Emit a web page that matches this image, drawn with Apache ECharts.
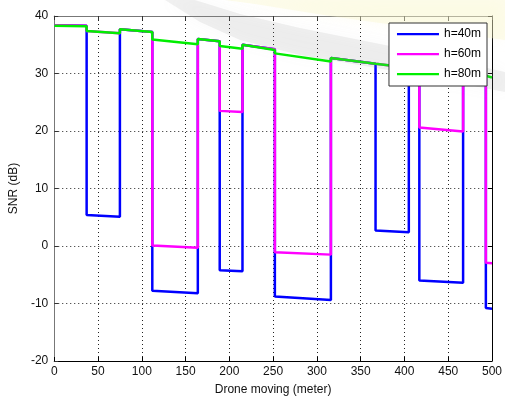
<!DOCTYPE html>
<html>
<head>
<meta charset="utf-8">
<script src="https://cdn.jsdelivr.net/npm/echarts@6/dist/echarts.min.js"></script>
<style>
html,body{margin:0;padding:0;background:#fff;}
#chart{width:505px;height:401px;}
</style>
</head>
<body>
<div id="chart"></div>
<script>
// Breakpoints of each curve (distance in m, SNR in dB)
const h40X = [0, 37, 37, 75, 75, 112, 112, 164, 164, 189, 189, 215, 215, 252, 252, 316, 316, 367, 367, 405, 405, 417, 417, 467, 467, 493, 493, 500];
const h40Y = [38.4, 38.3, 5.4, 5.1, 37.7, 37.2, -7.8, -8.2, 36.0, 35.6, -4.2, -4.4, 35.0, 34.2, -8.8, -9.4, 32.7, 31.7, 2.7, 2.4, 31.3, 31.1, -6.0, -6.4, 30.1, 29.6, -10.8, -10.9];

const h60X = [0, 37, 37, 75, 75, 112, 112, 164, 164, 189, 189, 215, 215, 252, 252, 316, 316, 367, 367, 405, 405, 417, 417, 467, 467, 493, 493, 500];
const h60Y = [38.4, 38.3, 37.4, 37.0, 37.7, 37.2, 0.1, -0.3, 36.0, 35.6, 23.5, 23.3, 35.0, 34.2, -1.1, -1.5, 32.7, 31.7, 31.4, 31.0, 31.3, 31.1, 20.6, 19.9, 30.1, 29.6, -2.9, -3.0];

const h80X = [0, 37, 37, 75, 75, 112, 112, 164, 164, 189, 189, 215, 215, 252, 252, 316, 316, 367, 367, 405, 405, 417, 417, 467, 467, 493, 493, 500];
const h80Y = [38.3, 38.2, 37.4, 37.0, 37.7, 37.2, 35.9, 35.1, 36.0, 35.6, 34.8, 34.3, 35.0, 34.1, 33.5, 32.1, 32.7, 31.7, 31.4, 31.0, 31.3, 31.1, 30.6, 29.8, 30.1, 29.6, 29.4, 29.3];

const seriesNames = ['h=40m', 'h=60m', 'h=80m'];
const xTicks = [0, 50, 100, 150, 200, 250, 300, 350, 400, 450, 500];
const yTicks = [-20, -10, 0, 10, 20, 30, 40];

function pairs(xs, ys) { return xs.map((x, i) => [x, ys[i]]); }

const chart = echarts.init(document.getElementById('chart'), null, {renderer: 'canvas'});
const font = 'Liberation Sans, Arial, Helvetica, sans-serif';
const gridLine = {show: true, lineStyle: {color: '#222', type: [1, 3], width: 1}};
const lineIcon = 'path://M0,0M42,12M0,5L42,5L42,7.2L0,7.2Z';

const baseX = {
  type: 'value', min: xTicks[0], max: xTicks[xTicks.length - 1], interval: 50,
  splitLine: {show: false}
};
const baseY = {
  type: 'value', min: yTicks[0], max: yTicks[yTicks.length - 1], interval: 10,
  splitLine: {show: false}
};

chart.setOption({
  animation: false,
  backgroundColor: '#ffffff',
  textStyle: {fontFamily: font},
  grid: {left: 54, right: 9, top: 16, bottom: 37, containLabel: false},
  legend: {
    orient: 'vertical', right: 18, top: 23, z: 20,
    backgroundColor: '#ffffff', borderColor: '#333', borderWidth: 1, borderRadius: 0,
    padding: [5, 6, 6, 8], itemGap: 8, itemWidth: 42, itemHeight: 12,
    icon: lineIcon,
    textStyle: {fontFamily: font, fontSize: 12, color: '#000'},
    data: seriesNames
  },
  graphic: [
    {type: 'polygon', z: 10, silent: true,
     shape: {points: [[225, 0], [505, 0], [505, 40], [430, 30], [330, 16], [255, 4]]},
     style: {fill: 'rgba(250,246,200,0.35)', shadowBlur: 14, shadowColor: 'rgba(250,246,200,0.6)'}},
    {type: 'polygon', z: 11, silent: true,
     shape: {points: [[165, 0], [195, 0], [240, 14], [300, 28], [400, 48], [505, 72], [505, 92], [400, 72], [300, 55], [240, 40], [200, 22]]},
     style: {fill: 'rgba(150,150,150,0.13)', shadowBlur: 16, shadowColor: 'rgba(150,150,150,0.35)'}}
  ],
  xAxis: [
    Object.assign({}, baseX, {
      position: 'bottom',
      name: 'Drone moving (meter)', nameLocation: 'middle', nameGap: 23,
      nameTextStyle: {fontFamily: font, fontSize: 12, color: '#111'},
      axisLine: {show: true, onZero: false, lineStyle: {color: '#000', width: 1}},
      axisTick: {show: true, inside: true, length: 4, lineStyle: {color: '#000'}},
      axisLabel: {fontFamily: font, fontSize: 12, color: '#111', margin: 5},
      splitLine: gridLine
    }),
    Object.assign({}, baseX, {
      position: 'top',
      axisLine: {show: true, onZero: false, lineStyle: {color: '#777', width: 1}},
      axisTick: {show: true, inside: true, length: 4, lineStyle: {color: '#333'}},
      axisLabel: {show: false}
    })
  ],
  yAxis: [
    Object.assign({}, baseY, {
      position: 'left',
      name: 'SNR (dB)', nameLocation: 'middle', nameGap: 31,
      nameTextStyle: {fontFamily: font, fontSize: 12, color: '#111'},
      axisLine: {show: true, onZero: false, lineStyle: {color: '#777', width: 1}},
      axisTick: {show: true, inside: true, length: 4, lineStyle: {color: '#333'}},
      axisLabel: {fontFamily: font, fontSize: 12, color: '#111', margin: 6},
      splitLine: gridLine
    }),
    Object.assign({}, baseY, {
      position: 'right',
      axisLine: {show: true, onZero: false, lineStyle: {color: '#000', width: 1}},
      axisTick: {show: true, inside: true, length: 4, lineStyle: {color: '#000'}},
      axisLabel: {show: false}
    })
  ],
  series: [
    {name: seriesNames[0], type: 'line', data: pairs(h40X, h40Y), showSymbol: false, symbol: 'none',
     lineStyle: {color: '#0000ff', width: 2.5}, itemStyle: {color: '#0000ff'}, z: 2},
    {name: seriesNames[1], type: 'line', data: pairs(h60X, h60Y), showSymbol: false, symbol: 'none',
     lineStyle: {color: '#ff00ff', width: 2.5}, itemStyle: {color: '#ff00ff'}, z: 3},
    {name: seriesNames[2], type: 'line', data: pairs(h80X, h80Y), showSymbol: false, symbol: 'none',
     lineStyle: {color: '#00ee00', width: 2.5}, itemStyle: {color: '#00ee00'}, z: 4}
  ]
});
</script>
</body>
</html>
